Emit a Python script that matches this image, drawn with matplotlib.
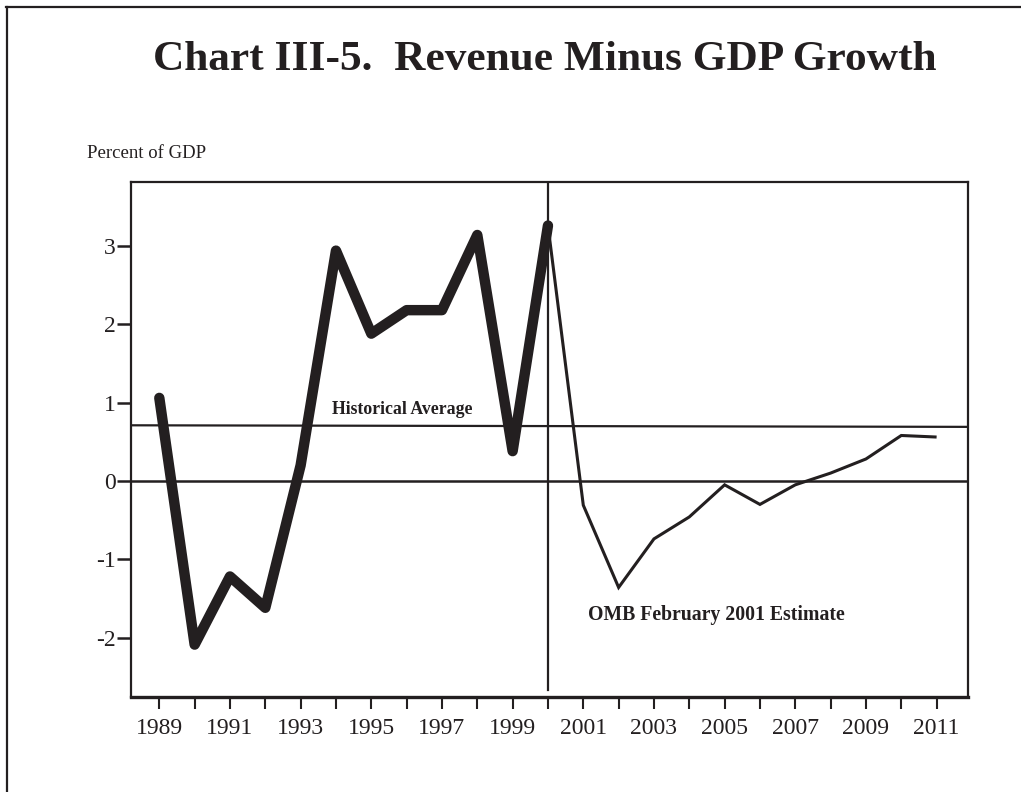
import matplotlib
matplotlib.use("Agg")
import matplotlib.pyplot as plt
from matplotlib.lines import Line2D

# --- data (percent of GDP) ---
hist_years = [1989, 1990, 1991, 1992, 1993, 1994, 1995, 1996, 1997, 1998, 1999, 2000]
hist_vals = [1.06, -2.09, -1.22, -1.62, 0.20, 2.94, 1.88, 2.18, 2.18, 3.14, 0.38, 3.26]

est_years = [2000, 2001, 2002, 2003, 2004, 2005, 2006, 2007, 2008, 2009, 2010, 2011]
est_vals = [3.26, -0.31, -1.36, -0.74, -0.46, -0.05, -0.30, -0.05, 0.10, 0.28, 0.58, 0.56]

avg_x = [1988.19, 2011.88]
avg_vals = [0.71, 0.69]

tick_years = list(range(1989, 2012))
tick_labels = [str(y) if y % 2 == 1 else "" for y in tick_years]
y_ticks = [-2, -1, 0, 1, 2, 3]

ink = "#231f20"
plt.rcParams["font.family"] = ["Liberation Serif", "DejaVu Serif"]

y_lo, y_hi = -2.755, 3.82

fig = plt.figure(figsize=(10.21, 7.92), dpi=100)
ax = fig.add_axes([0.128, 0.1203, 0.8198, 0.6503])

# outer frame (only top and left edges show in the original)
fig.add_artist(Line2D([0.006, 1.0], [0.9915, 0.9915], color=ink, lw=1.6,
                      transform=fig.transFigure))
fig.add_artist(Line2D([0.0064, 0.0064], [0.0, 0.9915], color=ink, lw=1.6,
                      transform=fig.transFigure))

ax.plot(hist_years, hist_vals, color=ink, lw=7.5,
        solid_capstyle="round", solid_joinstyle="round", zorder=4)
ax.plot(est_years, est_vals, color=ink, lw=2.2,
        solid_capstyle="butt", solid_joinstyle="miter", zorder=4)
ax.plot(avg_x, avg_vals, color=ink, lw=1.6, zorder=3)
ax.axhline(0, color=ink, lw=1.8, zorder=3)
# forecast divider stops just short of the bottom axis
ax.axvline(2000, ymin=(-2.67 - y_lo) / (y_hi - y_lo), ymax=1, color=ink, lw=1.6, zorder=3)

ax.set_xlim(1988.19, 2011.88)
ax.set_ylim(y_lo, y_hi)

ax.set_xticks(tick_years)
ax.set_xticklabels(tick_labels)
ax.set_yticks(y_ticks)
ax.set_yticklabels([str(v) for v in y_ticks])
ax.tick_params(axis="x", direction="out", length=8.6, width=1.5, pad=7,
               labelsize=17, colors=ink)
ax.tick_params(axis="y", direction="out", length=10, width=1.8, pad=1,
               labelsize=17, colors=ink)

for side in ["top", "left", "right"]:
    ax.spines[side].set_linewidth(1.6)
    ax.spines[side].set_color(ink)
ax.spines["bottom"].set_linewidth(2.4)
ax.spines["bottom"].set_color(ink)

ax.text(1995.88, 0.907, "Historical Average", ha="center", va="center",
        fontsize=12.8, fontweight="bold", color=ink)
ax.text(2004.77, -1.71, "OMB February 2001 Estimate", ha="center", va="center",
        fontsize=14.2, fontweight="bold", color=ink)

fig.text(0.534, 0.924, "Chart III-5.  Revenue Minus GDP Growth", ha="center",
         va="center", fontsize=31.2, fontweight="bold", color=ink)
fig.text(0.0848, 0.8068, "Percent of GDP", ha="left", va="center",
         fontsize=13.5, color=ink)

fig.savefig("out.png", dpi=100)
